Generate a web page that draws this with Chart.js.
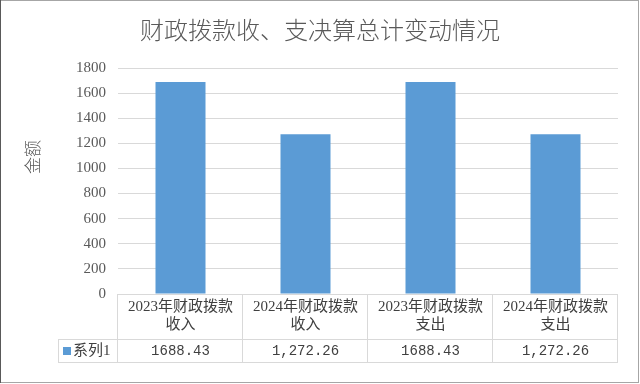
<!DOCTYPE html>
<html>
<head>
<meta charset="utf-8">
<script src="https://cdn.jsdelivr.net/npm/chart.js@4.4.1/dist/chart.umd.min.js"></script>
<style>
	html, body { margin: 0; padding: 0; background: #fff; }
</style>
</head>
<body>
<canvas id="chart" width="640" height="384"></canvas>
<script>
var chartTitle = '财政拨款收、支决算总计变动情况';
var axisTitle = '金额';
var seriesName = '系列1';
var categories = [
	['2023年财政拨款', '收入'],
	['2024年财政拨款', '收入'],
	['2023年财政拨款', '支出'],
	['2024年财政拨款', '支出']
];
var values = [1688.43, 1272.26, 1688.43, 1272.26];
var valueLabels = ['1688.43', '1,272.26', '1688.43', '1,272.26'];
var yMin = 0;
var yMax = 1800;
var yStep = 200;

var barColor = '#5b9bd5';
var lineColor = '#d9d9d9';
var textColor = '#595959';
var cjk = '"Liberation Serif", "Noto Sans CJK SC", sans-serif';

// draws the title, axis title, data table and outer border
var decorations = {
	id: 'decorations',
	afterDraw: function (chart) {
		var ctx = chart.ctx;
		var area = chart.chartArea;
		var x = chart.scales.x;
		var half = (area.right - area.left) / categories.length / 2;
		var headBottom = area.bottom + 45;
		var rowBottom = headBottom + 23;
		var legendLeft = 58;

		ctx.save();

		// title
		ctx.fillStyle = textColor;
		ctx.font = '300 24px "Noto Sans CJK SC", sans-serif';
		ctx.textAlign = 'center';
		ctx.textBaseline = 'middle';
		ctx.fillText(chartTitle, 320, 30);

		// axis title
		ctx.save();
		ctx.translate(33, 157);
		ctx.rotate(-Math.PI / 2);
		ctx.font = '300 17px "Noto Sans CJK SC", sans-serif';
		ctx.fillText(axisTitle, 0, 0);
		ctx.restore();

		// table lines
		ctx.strokeStyle = lineColor;
		ctx.lineWidth = 1;
		ctx.beginPath();
		ctx.moveTo(area.left, area.bottom + 0.5);
		ctx.lineTo(area.right, area.bottom + 0.5);
		ctx.moveTo(legendLeft, headBottom + 0.5);
		ctx.lineTo(area.right, headBottom + 0.5);
		ctx.moveTo(legendLeft, rowBottom + 0.5);
		ctx.lineTo(area.right, rowBottom + 0.5);
		ctx.moveTo(legendLeft + 0.5, headBottom);
		ctx.lineTo(legendLeft + 0.5, rowBottom);
		for (var i = 0; i <= categories.length; i++) {
			var lx = Math.round(area.left + i * half * 2) - 0.5;
			ctx.moveTo(lx, area.bottom);
			ctx.lineTo(lx, rowBottom);
		}
		ctx.stroke();

		// table texts
		ctx.fillStyle = '#404040';
		categories.forEach(function (cat, i) {
			var cx = x.getPixelForValue(i);
			ctx.font = '15px ' + cjk;
			ctx.fillText(cat[0], cx, area.bottom + 13);
			ctx.fillText(cat[1], cx, area.bottom + 31);
			ctx.font = '14px "Liberation Mono", monospace';
			ctx.fillText(valueLabels[i], cx, headBottom + 12);
		});

		// legend key in the table
		ctx.fillStyle = barColor;
		ctx.fillRect(63, headBottom + 8, 8, 8);
		ctx.fillStyle = '#404040';
		ctx.textAlign = 'left';
		ctx.font = '15px ' + cjk;
		ctx.fillText(seriesName, 73, headBottom + 12);

		// outer border
		ctx.strokeStyle = '#a6a6a6';
		ctx.strokeRect(0.5, 0.5, 638, 382);
		ctx.strokeStyle = '#595959';
		ctx.beginPath();
		ctx.moveTo(0.5, 0);
		ctx.lineTo(0.5, 383);
		ctx.stroke();

		ctx.restore();
	}
};

new Chart(document.getElementById('chart'), {
	type: 'bar',
	data: {
		labels: categories,
		datasets: [{
			label: seriesName,
			data: values,
			backgroundColor: barColor,
			barPercentage: 0.4,
			categoryPercentage: 1.0
		}]
	},
	options: {
		responsive: false,
		animation: false,
		layout: {
			padding: { top: 68, left: 0, right: 22, bottom: 90 }
		},
		plugins: {
			legend: { display: false },
			tooltip: { enabled: false }
		},
		scales: {
			x: {
				display: false
			},
			y: {
				min: yMin,
				max: yMax,
				afterFit: function (scale) { scale.width = 118; },
				border: { display: false },
				grid: { color: lineColor, drawTicks: false },
				ticks: {
					stepSize: yStep,
					padding: 12,
					color: textColor,
					font: { size: 15, family: '"Liberation Serif", serif' },
					callback: function (value) { return String(value); }
				}
			}
		}
	},
	plugins: [decorations]
});
</script>
</body>
</html>
